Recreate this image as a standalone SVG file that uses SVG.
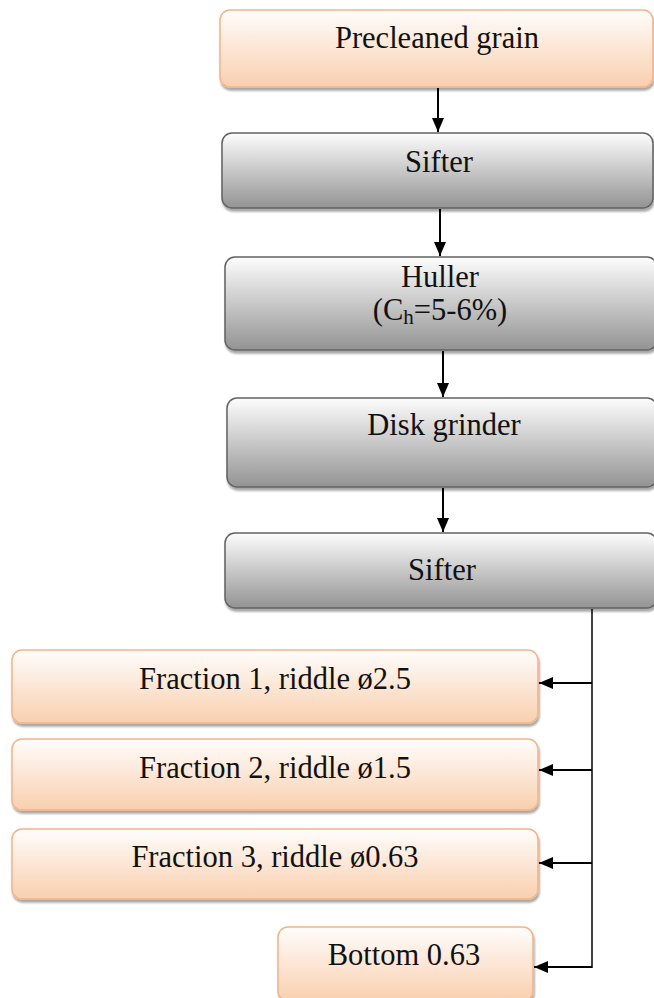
<svg xmlns="http://www.w3.org/2000/svg" width="654" height="998" viewBox="0 0 654 998">
<defs>
<linearGradient id="peach" x1="0" y1="0" x2="0" y2="1">
<stop offset="0" stop-color="#fffdfc"/>
<stop offset="1" stop-color="#f9cfae"/>
</linearGradient>
<linearGradient id="grey" x1="0" y1="0" x2="0" y2="1">
<stop offset="0" stop-color="#fdfdfd"/>
<stop offset="1" stop-color="#939393"/>
</linearGradient>
<filter id="sh" x="-5%" y="-10%" width="110%" height="130%">
<feGaussianBlur in="SourceAlpha" stdDeviation="1.2"/>
<feOffset dx="1" dy="3" result="b"/>
<feComponentTransfer><feFuncA type="linear" slope="0.35"/></feComponentTransfer>
<feMerge><feMergeNode/><feMergeNode in="SourceGraphic"/></feMerge>
</filter>
<marker id="ah" viewBox="0 0 14 12" refX="14" refY="6" markerWidth="14" markerHeight="12" markerUnits="userSpaceOnUse" orient="auto">
<path d="M0,0 L14,6 L0,12 Z" fill="#000"/>
</marker>
</defs>
<style>
.p{fill:url(#peach);stroke:#f5b389;stroke-width:1.5;filter:url(#sh)}
.g{fill:url(#grey);stroke:#626262;stroke-width:1.5;filter:url(#sh)}
text{font-family:"Liberation Serif","Times New Roman",serif;font-size:30.5px;fill:#111;text-anchor:middle}
.c{stroke:#000;stroke-width:1.5;fill:none}
.ca{stroke:#000;stroke-width:2;fill:none;marker-end:url(#ah)}
</style>
<g id="n1"><rect class="p" x="220" y="10" width="433" height="77" rx="10"/><text x="437" y="48">Precleaned grain</text></g>
<g id="n2"><rect class="g" x="222" y="133" width="431" height="75" rx="10"/><text x="439" y="172">Sifter</text></g>
<g id="n3"><rect class="g" x="225" y="257" width="432" height="93" rx="10"/><text x="440" y="287">Huller</text><text x="440" y="320">(C<tspan font-size="21" dy="4">h</tspan><tspan dy="-4">=5-6%)</tspan></text></g>
<g id="n4"><rect class="g" x="227" y="398" width="430" height="89" rx="10"/><text x="444" y="435">Disk grinder</text></g>
<g id="n5"><rect class="g" x="225" y="533" width="432" height="75" rx="10"/><text x="442" y="580">Sifter</text></g>
<g id="n6"><rect class="p" x="12" y="650" width="526" height="73" rx="10"/><text x="275" y="689">Fraction 1, riddle ø2.5</text></g>
<g id="n7"><rect class="p" x="12" y="739" width="526" height="71" rx="10"/><text x="275" y="778">Fraction 2, riddle ø1.5</text></g>
<g id="n8"><rect class="p" x="12" y="829" width="526" height="70" rx="10"/><text x="275" y="867">Fraction 3, riddle ø0.63</text></g>
<g id="n9"><rect class="p" x="278" y="927" width="255" height="74" rx="10"/><text x="404" y="965">Bottom 0.63</text></g>
<g id="connectors">
<line class="ca" x1="438" y1="88" x2="438" y2="132"/>
<line class="ca" x1="440" y1="209" x2="440" y2="256"/>
<line class="ca" x1="443" y1="351" x2="443" y2="397"/>
<line class="ca" x1="443" y1="488" x2="443" y2="532"/>
<line class="c" x1="592" y1="609" x2="592" y2="968"/>
<line class="ca" x1="592" y1="683" x2="539" y2="683"/>
<line class="ca" x1="592" y1="770" x2="539" y2="770"/>
<line class="ca" x1="592" y1="863" x2="539" y2="863"/>
<line class="ca" x1="592" y1="967" x2="534" y2="967"/>
</g>
</svg>
